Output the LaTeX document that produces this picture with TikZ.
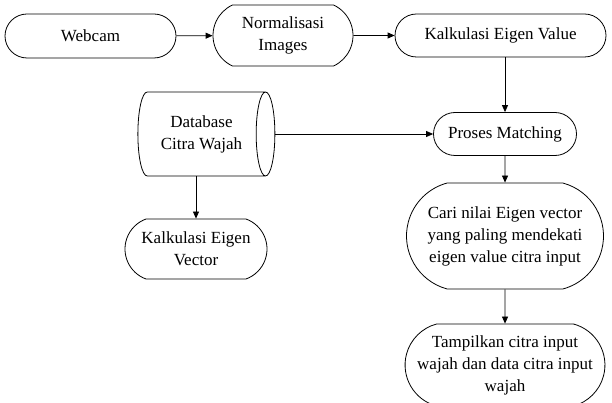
\documentclass[tikz,border=0pt]{standalone}
\usepackage{fontspec}
\setmainfont{Liberation Serif}
\usetikzlibrary{shapes,arrows.meta,positioning}

\tikzset{
  term/.style={draw,rounded rectangle,rounded rectangle arc length=180,inner sep=0pt,
    align=center,line width=0.8pt,font=\fontsize{17}{22}\selectfont},
  store/.style={draw,cylinder,aspect=0.5,inner sep=0pt,align=center,line width=0.8pt,
    font=\fontsize{17}{22}\selectfont},
  arr/.style={-{Triangle[length=7pt,width=6pt]},line width=0.8pt}
}

\begin{document}
\begin{tikzpicture}[x=1pt,y=-1pt]
    \useasboundingbox (0,0) rectangle (612,403);
    % Top row
    \node[term,minimum width=171pt,minimum height=44pt] (webcam) at (90.5,36) {Webcam};
    \node[term,rounded rectangle arc length=130,minimum width=140pt,minimum height=61pt] (norm) at (283,35.5) {Normalisasi\\Images};
    \node[term,minimum width=211pt,minimum height=43pt] (kalval) at (500.5,35.5) {Kalkulasi Eigen Value};
    
    % Database and matching
    \node[store,minimum width=84pt,minimum height=137pt] (db) at (201.5,134) {Database\\Citra Wajah};
    \node[term,minimum width=143pt,minimum height=43pt] (match) at (505,134) {Proses Matching};
    \node[term,rounded rectangle arc length=140,minimum width=142pt,minimum height=60pt] (kalvec) at (196,249) {Kalkulasi Eigen\\Vector};
    
    % Results
    \node[term,rounded rectangle arc length=150,minimum width=197pt,minimum height=106pt] (cari) at (505,236) {Cari nilai Eigen vector\\yang paling mendekati\\eigen value citra input};
    \node[term,rounded rectangle arc length=150,minimum width=196pt,minimum height=82pt] (tampil) at (505,365) {Tampilkan citra input\\wajah dan data citra input\\wajah};
    
    % Arrows
    \draw[arr] (webcam) -- (norm);
    \draw[arr] (norm) -- (kalval);
    \draw[arr] (kalval.south -| match.north) -- (match.north);
    \draw[arr] (db.east |- match.west) -- (match.west);
    \draw[arr] (db.south -| kalvec.north) -- (kalvec.north);
    \draw[arr] (match) -- (cari);
    \draw[arr] (cari) -- (tampil);
\end{tikzpicture}
\end{document}
